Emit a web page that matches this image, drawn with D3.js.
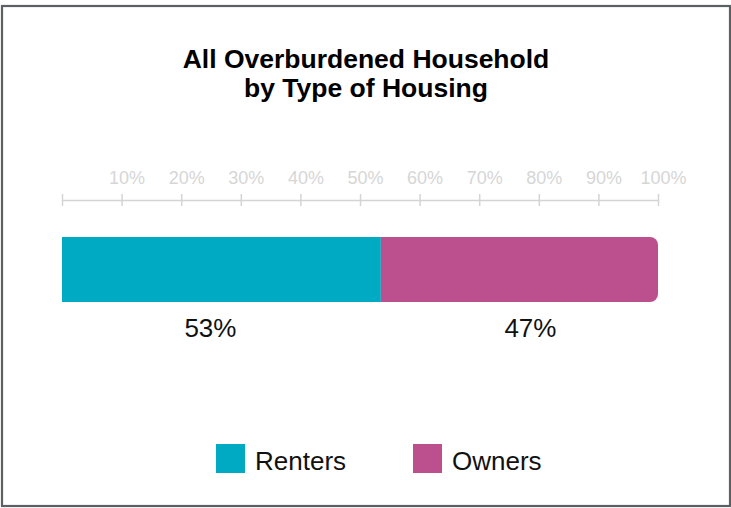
<!DOCTYPE html>
<html>
<head>
<meta charset="utf-8">
<style>
    body { margin: 0; background: #fff; }
    text { font-family: "Liberation Sans", Arial, Helvetica, sans-serif; }
</style>
</head>
<body>
<svg width="731" height="508"></svg>
<script src="https://cdn.jsdelivr.net/npm/d3@7"></script>
<script>
    // data
    var categories = ["Renters", "Owners"];
    var shares = [53.5, 46.5];
    var shareLabels = ["53%", "47%"];
    var colors = ["#00aac3", "#bc4f8e"];
    var tickValues = [0, 10, 20, 30, 40, 50, 60, 70, 80, 90, 100];
    var titleLines = ["All Overburdened Household", "by Type of Housing"];

    var svg = d3.select("svg");

    // frame
    svg.append("rect")
        .attr("x", 2).attr("y", 6)
        .attr("width", 728).attr("height", 500)
        .attr("fill", "#fff")
        .attr("stroke", "#5b6163")
        .attr("stroke-width", 2.2);

    // title
    svg.append("text")
        .attr("x", 366)
        .attr("y", 68)
        .attr("text-anchor", "middle")
        .style("font-size", "26.5px")
        .style("font-weight", "bold")
        .style("fill", "#000")
        .selectAll("tspan")
        .data(titleLines)
        .enter().append("tspan")
        .attr("x", 366)
        .attr("dy", function (d, i) { return i === 0 ? 0 : 29; })
        .text(function (d) { return d; });

    var x = d3.scaleLinear()
        .domain([0, 100])
        .range([62, 658]);

    // axis
    var axisY = 200;
    var axis = d3.axisTop(x)
        .tickValues(tickValues)
        .tickSize(0)
        .tickFormat(function (d) { return d === 0 ? "" : d + "%"; });

    var gAxis = svg.append("g")
        .attr("transform", "translate(0," + axisY + ")")
        .call(axis);
    gAxis.select(".domain")
        .attr("stroke", "#d4d4d4")
        .attr("stroke-width", 1.5);
    gAxis.selectAll(".tick line")
        .attr("y1", -6).attr("y2", 6)
        .attr("stroke", "#d4d4d4")
        .attr("stroke-width", 1.5);
    gAxis.selectAll(".tick text")
        .attr("y", -16)
        .attr("dx", 5)
        .attr("fill", "#d6d6d6")
        .style("font-size", "18px")
        .style("font-family", "'Liberation Sans', Arial, sans-serif");

    // stacked bar
    var starts = [];
    var acc = 0;
    shares.forEach(function (v) { starts.push(acc); acc += v; });

    var barTop = 237, barH = 65, r = 8;

    svg.append("g").selectAll("path")
        .data(shares)
        .enter().append("path")
        .attr("fill", function (d, i) { return colors[i]; })
        .attr("d", function (d, i) {
            var x0 = x(starts[i]), x1 = x(starts[i] + d);
            if (i < shares.length - 1) {
                return "M" + x0 + "," + barTop + "H" + x1 + "V" + (barTop + barH) + "H" + x0 + "Z";
            }
            return "M" + x0 + "," + barTop +
                "H" + (x1 - r) +
                "A" + r + "," + r + " 0 0 1 " + x1 + "," + (barTop + r) +
                "V" + (barTop + barH - r) +
                "A" + r + "," + r + " 0 0 1 " + (x1 - r) + "," + (barTop + barH) +
                "H" + x0 + "Z";
        });

    // value labels
    svg.append("g").selectAll("text")
        .data(shares)
        .enter().append("text")
        .attr("x", function (d, i) {
            var mid = x(starts[i] + d / 2);
            return i === 0 ? mid - 11 : mid + 11;
        })
        .attr("y", 337)
        .attr("text-anchor", "middle")
        .style("font-size", "26px")
        .style("fill", "#111")
        .text(function (d, i) { return shareLabels[i]; });

    // legend
    var legendX = [216, 413];
    var legend = svg.append("g").selectAll("g")
        .data(categories)
        .enter().append("g")
        .attr("transform", function (d, i) { return "translate(" + legendX[i] + ",444)"; });
    legend.append("rect")
        .attr("width", 29).attr("height", 29)
        .attr("fill", function (d, i) { return colors[i]; });
    legend.append("text")
        .attr("x", 39)
        .attr("y", 26)
        .style("font-size", "26px")
        .style("fill", "#111")
        .text(function (d) { return d; });
</script>
</body>
</html>
